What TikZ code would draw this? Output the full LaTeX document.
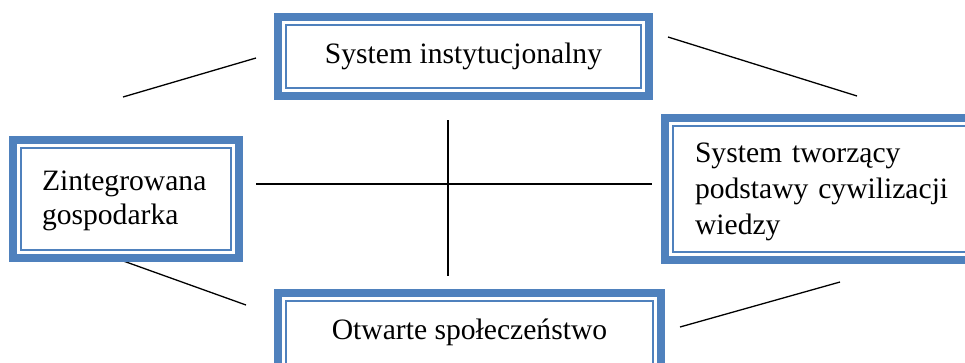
\documentclass[tikz,border=0pt]{standalone}
\usepackage{fontspec}
\setmainfont{Liberation Serif}
\usetikzlibrary{positioning, calc}
\definecolor{boxblue}{HTML}{4F81BD}

\tikzset{
  panel/.style={draw=boxblue, fill=white, line width=8pt, inner sep=0pt, outer sep=0pt,
    font=\fontsize{29.6}{34}\selectfont},
  rim/.style={draw=boxblue, line width=1.5pt},
  link/.style={line width=1.3pt}
}

\begin{document}
\begin{tikzpicture}[x=1pt, y=-1pt]
    \useasboundingbox (0,0) rectangle (965,362);
    \clip (0,0) rectangle (965,362);

    % Free ends of the plain lines
    \coordinate (tl1) at (123,97);
    \coordinate (tl2) at (256,58);
    \coordinate (tr1) at (668,37);
    \coordinate (tr2) at (857,96);
    \coordinate (bl1) at (115,258);
    \coordinate (bl2) at (246,305);
    \coordinate (br1) at (680,327);
    \coordinate (br2) at (840,282);
    \coordinate (hl) at (256,184);
    \coordinate (hr) at (652,184);
    \coordinate (vt) at (448,120);
    \coordinate (vb) at (448,276);

    % Lines
    \draw[link] (tl1) -- (tl2);
    \draw[link] (tr1) -- (tr2);
    \draw[link] (bl1) -- (bl2);
    \draw[link] (br1) -- (br2);
    \draw[link] (hl) -- (hr);
    \draw[link] (vt) -- (vb);

    % Boxes
    \node[panel, minimum width=371, minimum height=79] (inst) at (463.5,56.5)
        {System instytucjonalny};
    \node[panel, minimum height=118, text width=168, inner xsep=29, align=left] (econ) at (126,199)
        {\strut Zintegrowana\\gospodarka};
    \node[panel, anchor=west, minimum height=142, text width=262, inner xsep=30, align=left,
        font=\fontsize{29.6}{36}\selectfont] (know) at (665,189)
        {\strut System tworzący\\podstawy cywilizacji\\wiedzy};
    \node[panel, minimum width=383, minimum height=79] (soc) at (469.5,332.5)
        {Otwarte społeczeństwo};

    % Inner thin frames
    \foreach \n in {inst, econ, know, soc}
        \draw[rim] ($(\n.north west)+(8,8)$) rectangle ($(\n.south east)+(-8,-8)$);
\end{tikzpicture}
\end{document}
